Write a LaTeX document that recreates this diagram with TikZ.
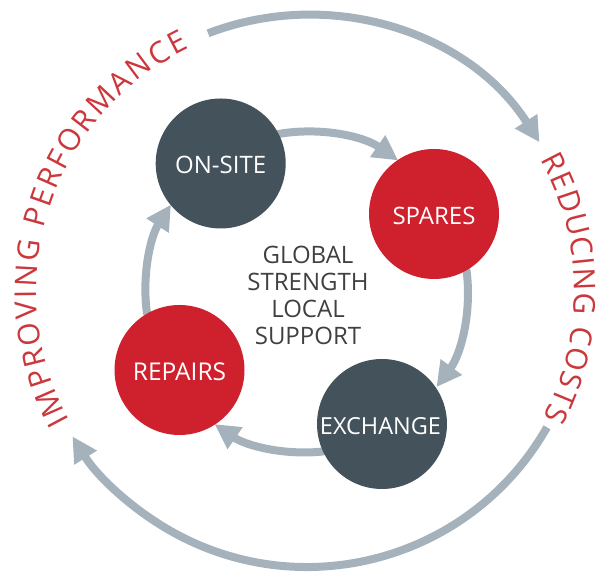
\documentclass[tikz,border=0pt]{standalone}
\usepackage{fontspec}
\setmainfont{Open Sans}
\usetikzlibrary{arrows.meta,backgrounds,decorations.text,calc}
\definecolor{ringgrey}{HTML}{A5B2BB}
\definecolor{darkslate}{HTML}{44525B}
\definecolor{hubred}{HTML}{CF202E}
\definecolor{labelred}{HTML}{CB373B}
\definecolor{centretext}{HTML}{404040}
\newcommand{\hubtext}[2][24]{\fontsize{#1}{26}\selectfont #2}
\tikzset{
  hub/.style={circle,minimum size=130pt,inner sep=0pt,outer sep=0pt,text=white,text height=21pt,text depth=0pt},
  darkhub/.style={hub,fill=darkslate},
  redhub/.style={hub,fill=hubred},
  conn/.style={draw=ringgrey,line width=8pt,line cap=round,-{Triangle[length=25pt,width=25pt,fill=ringgrey]}},
  ringarrow/.style={draw=ringgrey,line width=8pt,-{Triangle[length=25pt,width=25pt,fill=ringgrey]}},
  ringlabel/.style={decorate,decoration={text along path,text align={fit to path},
    text={|\fontsize{30}{32}\selectfont\color{labelred}|#1}}}
}
\begin{document}
\begin{tikzpicture}[x=1pt,y=1pt]
\useasboundingbox (0,0) rectangle (605,572);
\node[darkhub] (onsite) at (220.7,408.5) {\hubtext{ON-SITE}};
\node[redhub] (spares) at (434,358) {\hubtext{SPARES}};
\node[darkhub] (exchange) at (382,148) {\hubtext[23.5]{\kern-3pt EXCHANGE}};
\node[redhub] (repairs) at (179.5,202) {\hubtext[24.5]{REPAIRS}};
\node[align=center,text=centretext,font=\fontsize{24}{27}\selectfont] (centre) at (308,276.5) {GLOBAL\\STRENGTH\\LOCAL\\SUPPORT};
\begin{scope}[on background layer]
\draw[conn] (onsite.27.6) arc[start angle=99.9,end angle=55.2,radius=161pt];
\draw[conn] (spares.-60.9) arc[start angle=7.6,end angle=-36.4,radius=161pt];
\draw[conn] (exchange.205.5) arc[start angle=276.2,end angle=235.5,radius=161pt];
\draw[conn] (repairs.120.6) arc[start angle=187.9,end angle=147.3,radius=161pt];
\end{scope}
\coordinate (ringc) at (307,281);
\coordinate (topstart) at ($(ringc)+(111:276pt)$);
\coordinate (botstart) at ($(ringc)+(-29.6:276pt)$);
\draw[ringarrow] (topstart) arc[start angle=111,end angle=32.6,radius=276pt];
\draw[ringarrow] (botstart) arc[start angle=-29.6,end angle=-148.2,radius=276pt];
\coordinate (lc) at (305.5,281);
\coordinate (leftlab) at ($(lc)+(208.8:269pt)$);
\coordinate (rightlab) at ($(lc)+(29.2:269pt)$);
\path[ringlabel={IMPROVING PERFORMANCE}] (leftlab) arc[start angle=208.8,end angle=115.6,radius=269pt];
\path[ringlabel={REDUCING COSTS}] (rightlab) arc[start angle=29.2,end angle=-28,radius=269pt];
\end{tikzpicture}
\end{document}
